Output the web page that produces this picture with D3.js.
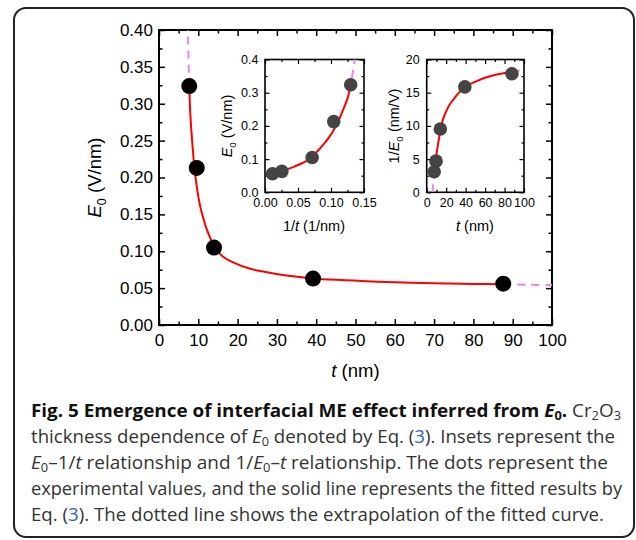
<!DOCTYPE html>
<html>
<head>
<meta charset="utf-8">
<script src="https://cdn.jsdelivr.net/npm/d3@7"></script>
<style>
body { margin: 0; background: #fff; }
svg { display: block; }
</style>
</head>
<body>
<svg id="fig" width="636" height="540"></svg>
<script>
// measured points: Cr2O3 thickness t (nm) and E0 (V/nm)
const tData = [7.7, 9.6, 14.0, 39.2, 87.6];
const e0Data = [0.324, 0.213, 0.105, 0.063, 0.056];

// fitted curve (solid between first and last point, dashed outside)
const fitT = [7.3, 7.7, 8.0, 8.5, 9.0, 9.6, 10.4, 11.2, 12.0, 13.0, 14.0, 16.0, 19.0, 23.0, 27.5, 32.0, 36.0, 39.2, 45.0, 52.8, 60.0, 70.0, 80.0, 87.6, 94.0, 100.0];
const fitE = [0.410, 0.324, 0.283, 0.245, 0.214, 0.188, 0.163, 0.146, 0.132, 0.1185, 0.1075, 0.094, 0.0845, 0.0765, 0.0715, 0.0675, 0.0650, 0.0632, 0.0612, 0.0594, 0.0580, 0.0566, 0.0557, 0.0551, 0.0546, 0.0541];

// extrapolation of 1/E0 down to zero (right inset only)
const lowT = [5.9, 6.4, 6.9, 7.3];
const lowInvE = [0, 0.85, 1.7, 2.44];

// tick labels
const mainXTicks = [0, 10, 20, 30, 40, 50, 60, 70, 80, 90, 100];
const mainXMinor = [5, 15, 25, 35, 45, 55, 65, 75, 85, 95];
const mainYTicks = [0, 0.05, 0.10, 0.15, 0.20, 0.25, 0.30, 0.35, 0.40];
const mainYMinor = [0.025, 0.075, 0.125, 0.175, 0.225, 0.275, 0.325, 0.375];
const in1XTicks = [0, 0.05, 0.10, 0.15];
const in1XMinor = [0.025, 0.075, 0.125];
const in1YTicks = [0, 0.1, 0.2, 0.3, 0.4];
const in1YMinor = [0.05, 0.15, 0.25, 0.35];
const in2XTicks = [0, 20, 40, 60, 80, 100];
const in2XMinor = [10, 30, 50, 70, 90];
const in2YTicks = [0, 5, 10, 15, 20];
const in2YMinor = [2.5, 7.5, 12.5, 17.5];

const svg = d3.select('#fig');
const plotFont = 'Arial, "Liberation Sans", sans-serif';
const capFont = '"Open Sans", "Noto Sans", sans-serif';

// text with italic / bold / subscript / link runs
function addRuns(text, runs, size, drop = 0.25) {
    let shift = 0;
    runs.forEach(([s, st]) => {
        const ts = text.append('tspan').text(s);
        if (st.includes('B')) ts.attr('font-weight', 'bold');
        if (st.includes('I')) ts.attr('font-style', 'italic');
        if (st.includes('L')) ts.attr('fill', '#3060d8');
        const sub = st.includes('S');
        const want = sub ? size * drop : 0;
        if (want !== shift) ts.attr('dy', want - shift);
        if (sub) ts.attr('font-size', size * 0.68);
        shift = want;
    });
    return text;
}

function panel(id, box, xDomain, yDomain, cfg) {
    const x = d3.scaleLinear().domain(xDomain).range([box.left, box.right]);
    const y = d3.scaleLinear().domain(yDomain).range([box.bottom, box.top]);
    const g = svg.append('g');

    g.append('clipPath').attr('id', id)
        .append('rect')
        .attr('x', box.left).attr('y', box.top)
        .attr('width', box.right - box.left).attr('height', box.bottom - box.top);

    const styleAxis = (a, labels) => {
        a.select('.domain').remove();
        a.selectAll('line').attr('stroke', '#000').attr('stroke-width', cfg.tickW);
        a.attr('font-size', cfg.font).attr('font-family', plotFont);
        a.selectAll('text').attr('fill', '#000');
        if (!labels) a.selectAll('text').remove();
    };

    const sides = [
        ['bottom', d3.axisBottom, x, box.bottom, true],
        ['top', d3.axisTop, x, box.top, false],
        ['left', d3.axisLeft, y, box.left, true],
        ['right', d3.axisRight, y, box.right, false]
    ];
    sides.forEach(([side, axisFn, sc, pos, labels]) => {
        const horiz = side == 'bottom' || side == 'top';
        const tr = horiz ? `translate(0,${pos})` : `translate(${pos},0)`;
        const major = horiz ? cfg.xTicks : cfg.yTicks;
        const minor = horiz ? cfg.xMinor : cfg.yMinor;
        /*major ticks, pointing inward*/
        g.append('g').attr('transform', tr)
            .call(axisFn(sc).tickValues(major).tickSize(-cfg.major).tickSizeOuter(0)
                .tickPadding(horiz ? cfg.xPad : cfg.yPad)
                .tickFormat(horiz ? cfg.xFmt : cfg.yFmt))
            .call(a => styleAxis(a, labels));
        /*minor ticks*/
        g.append('g').attr('transform', tr)
            .call(axisFn(sc).tickValues(minor).tickSize(-cfg.minor).tickSizeOuter(0).tickFormat(''))
            .call(a => styleAxis(a, false));
    });

    g.append('rect')
        .attr('x', box.left).attr('y', box.top)
        .attr('width', box.right - box.left).attr('height', box.bottom - box.top)
        .attr('fill', 'none').attr('stroke', '#000').attr('stroke-width', cfg.frameW);

    return { x, y, g, clip: `url(#${id})` };
}

// solid fit between first and last measured t, dashed extrapolation outside
function drawFit(p, pts, solidFrom, solidTo) {
    const line = d3.line().x(d => p.x(d[0])).y(d => p.y(d[1])).curve(d3.curveCatmullRom.alpha(0.5));
    const inSolid = d => d[2] >= solidFrom && d[2] <= solidTo;
    const lowPart = pts.filter(d => d[2] <= solidFrom);
    const highPart = pts.filter(d => d[2] >= solidTo);
    [lowPart, highPart].forEach(part => {
        p.g.append('path').datum(part)
            .attr('d', line).attr('clip-path', p.clip)
            .attr('fill', 'none').attr('stroke', '#ee82ee').attr('stroke-width', 2)
            .attr('stroke-dasharray', '8,6');
    });
    p.g.append('path').datum(pts.filter(inSolid))
        .attr('d', line).attr('clip-path', p.clip)
        .attr('fill', 'none').attr('stroke', '#ff0000').attr('stroke-width', 2);
}

const tMin = tData[0];
const tMax = tData[tData.length - 1];
const fit = fitT.map((t, i) => [t, fitE[i]]);

/*main panel: E0 vs t*/
const main = panel('clipMain', { left: 159, right: 552, top: 30, bottom: 325 }, [0, 100], [0, 0.40], {
    xTicks: mainXTicks, xMinor: mainXMinor, yTicks: mainYTicks, yMinor: mainYMinor,
    xFmt: d3.format('d'), yFmt: d3.format('.2f'), font: 17, major: 6, minor: 3.5,
    xPad: 9, yPad: 6, tickW: 1.5, frameW: 2
});
drawFit(main, fit.map(d => [d[0], d[1], d[0]]), tMin, tMax);
main.g.selectAll('.pt').data(tData).enter().append('circle')
    .attr('cx', (d) => main.x(d))
    .attr('cy', (d, i) => main.y(e0Data[i]))
    .attr('r', 8).attr('fill', '#000');

addRuns(main.g.append('text').attr('x', 355.5).attr('y', 377).attr('text-anchor', 'middle')
    .attr('font-family', plotFont).attr('font-size', 18.5), [['t', 'I'], [' (nm)', '']], 18.5);
addRuns(main.g.append('text').attr('transform', 'translate(101,177.5) rotate(-90)').attr('text-anchor', 'middle')
    .attr('font-family', plotFont).attr('font-size', 18.5), [['E', 'I'], ['0', 'S'], [' (V/nm)', '']], 18.5);

/*inset 1: E0 vs 1/t*/
const in1 = panel('clipIn1', { left: 265, right: 364, top: 59.5, bottom: 192.3 }, [0, 0.15], [0, 0.4], {
    xTicks: in1XTicks, xMinor: in1XMinor, yTicks: in1YTicks, yMinor: in1YMinor,
    xFmt: d3.format('.2f'), yFmt: d3.format('.1f'), font: 12.5, major: 4.5, minor: 2.5,
    xPad: 6, yPad: 6.5, tickW: 1.2, frameW: 1.6
});
drawFit(in1, fit.map(d => [1 / d[0], d[1], d[0]]), tMin, tMax);
in1.g.selectAll('.pt').data(tData).enter().append('circle')
    .attr('cx', (d) => in1.x(1 / d))
    .attr('cy', (d, i) => in1.y(e0Data[i]))
    .attr('r', 6.8).attr('fill', '#444');
addRuns(in1.g.append('text').attr('x', 314).attr('y', 231).attr('text-anchor', 'middle')
    .attr('font-family', plotFont).attr('font-size', 14.5), [['1/', ''], ['t', 'I'], [' (1/nm)', '']], 14.5);
addRuns(in1.g.append('text').attr('transform', 'translate(232,126) rotate(-90)').attr('text-anchor', 'middle')
    .attr('font-family', plotFont).attr('font-size', 14.5), [['E', 'I'], ['0', 'S'], [' (V/nm)', '']], 14.5);

/*inset 2: 1/E0 vs t*/
const in2 = panel('clipIn2', { left: 426.7, right: 524, top: 59.5, bottom: 192.3 }, [0, 100], [0, 20], {
    xTicks: in2XTicks, xMinor: in2XMinor, yTicks: in2YTicks, yMinor: in2YMinor,
    xFmt: d3.format('d'), yFmt: d3.format('d'), font: 12.5, major: 4.5, minor: 2.5,
    xPad: 6, yPad: 7, tickW: 1.2, frameW: 1.6
});
const inv = lowT.map((t, i) => [t, lowInvE[i], t]).concat(fit.slice(1).map(d => [d[0], 1 / d[1], d[0]]));
drawFit(in2, inv, tMin, tMax);
in2.g.selectAll('.pt').data(tData).enter().append('circle')
    .attr('cx', (d) => in2.x(d))
    .attr('cy', (d, i) => in2.y(1 / e0Data[i]))
    .attr('r', 6.8).attr('fill', '#444');
addRuns(in2.g.append('text').attr('x', 475).attr('y', 231).attr('text-anchor', 'middle')
    .attr('font-family', plotFont).attr('font-size', 14.5), [['t', 'I'], [' (nm)', '']], 14.5);
addRuns(in2.g.append('text').attr('transform', 'translate(399,126) rotate(-90)').attr('text-anchor', 'middle')
    .attr('font-family', plotFont).attr('font-size', 14.5), [['1/', ''], ['E', 'I'], ['0', 'S'], [' (nm/V)', '']], 14.5);

/*caption, each line stretched to the width it has in the figure*/
const caption = [
    [['Fig. 5 Emergence of interfacial ME effect inferred from ', 'B'], ['E', 'BI'], ['0', 'BS'], ['.', 'B'], [' Cr', ''], ['2', 'S'], ['O', ''], ['3', 'S']],
    [['thickness dependence of ', ''], ['E', 'I'], ['0', 'S'], [' denoted by Eq. (', ''], ['3', 'L'], ['). Insets represent the', '']],
    [['E', 'I'], ['0', 'S'], ['\u20131/', ''], ['t', 'I'], [' relationship and 1/', ''], ['E', 'I'], ['0', 'S'], ['\u2013', ''], ['t', 'I'], [' relationship. The dots represent the', '']],
    [['experimental values, and the solid line represents the fitted results by', '']],
    [['Eq. (', ''], ['3', 'L'], ['). The dotted line shows the extrapolation of the fitted curve.', '']]
];
const captionWidths = [590, 584, 577, 591, 573];
caption.forEach((runs, i) => {
    const t = svg.append('text').attr('x', 31).attr('y', 417 + i * 26)
        .attr('font-family', capFont).attr('font-size', 18.2).attr('fill', '#333')
        .attr('textLength', captionWidths[i]).attr('lengthAdjust', 'spacingAndGlyphs');
    addRuns(t, runs, 18.2, 0.18);
    t.selectAll('tspan').filter(function () { return d3.select(this).attr('font-weight') == 'bold'; })
        .attr('fill', '#111');
});

/*rounded frame round the whole figure*/
svg.append('rect')
    .attr('x', 14).attr('y', 8).attr('width', 620).attr('height', 529)
    .attr('rx', 12).attr('ry', 12)
    .attr('fill', 'none').attr('stroke', '#222').attr('stroke-width', 2);
</script>
</body>
</html>
